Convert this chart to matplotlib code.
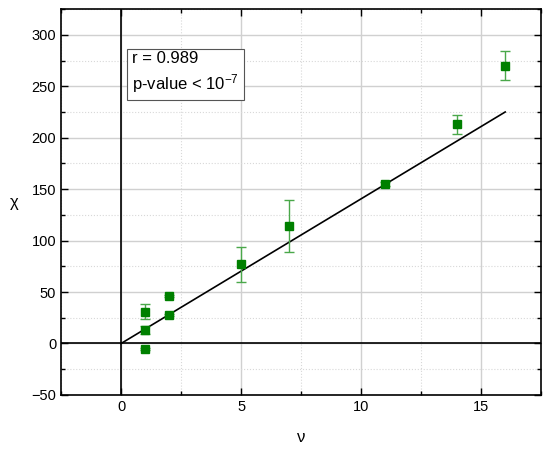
import matplotlib.pyplot as plt
from matplotlib.ticker import MultipleLocator

plt.rcParams['font.family'] = ['Liberation Sans', 'DejaVu Sans']
plt.rcParams['mathtext.fontset'] = 'custom'
plt.rcParams['mathtext.rm'] = 'Liberation Sans'
plt.rcParams['mathtext.it'] = 'Liberation Sans:italic'

nu = [1, 1, 1, 2, 2, 5, 7, 11, 14, 16]
chi = [31, 13, -5, 46, 28, 77, 114, 155, 213, 270]
chi_err = [7, 4, 1, 1, 1, 17, 25, 2, 9, 14]
fit_x = [0, 16]
fit_y = [0, 225]

fig = plt.figure(figsize=(5.5, 4.55), dpi=100)
ax = fig.add_axes([0.111, 0.132, 0.873, 0.848])

ax.set_xlim(-2.5, 17.5)
ax.set_ylim(-50, 325)
ax.xaxis.set_major_locator(MultipleLocator(5))
ax.xaxis.set_minor_locator(MultipleLocator(2.5))
ax.yaxis.set_major_locator(MultipleLocator(50))
ax.yaxis.set_minor_locator(MultipleLocator(25))

ax.grid(which='major', color='#d0d0d0', linestyle='-', linewidth=1)
ax.grid(which='minor', color='#d8d8d8', linestyle=':', linewidth=0.8)
ax.set_axisbelow(True)

ax.axvline(0, color='black', linewidth=1.2, zorder=1)
ax.axhline(0, color='black', linewidth=1.2, zorder=1)

ax.plot(fit_x, fit_y, color='black', linewidth=1.2, zorder=2)
ax.errorbar(nu, chi, yerr=chi_err, fmt='s', color='#008000', markersize=5.5,
            ecolor='#4aa84a', elinewidth=1, capsize=3.5, capthick=1, zorder=3)

ax.tick_params(which='both', direction='in', top=True, right=True, labelsize=10.5)
ax.tick_params(which='major', length=5, width=1)
ax.tick_params(which='minor', length=3, width=1)
for s in ax.spines.values():
    s.set_linewidth(1.2)

ax.set_xlabel('ν', fontsize=12, labelpad=12)
ax.set_ylabel('χ', fontsize=12, rotation=0, labelpad=12, va='center')

ax.text(0.45, 284, 'r = 0.989\np-value < 10$^{-7}$', fontsize=12, va='top',
        linespacing=1.35,
        bbox=dict(boxstyle='square,pad=0.3', facecolor='white', edgecolor='#555555', linewidth=0.8))

fig.savefig('out.png', dpi=100)
